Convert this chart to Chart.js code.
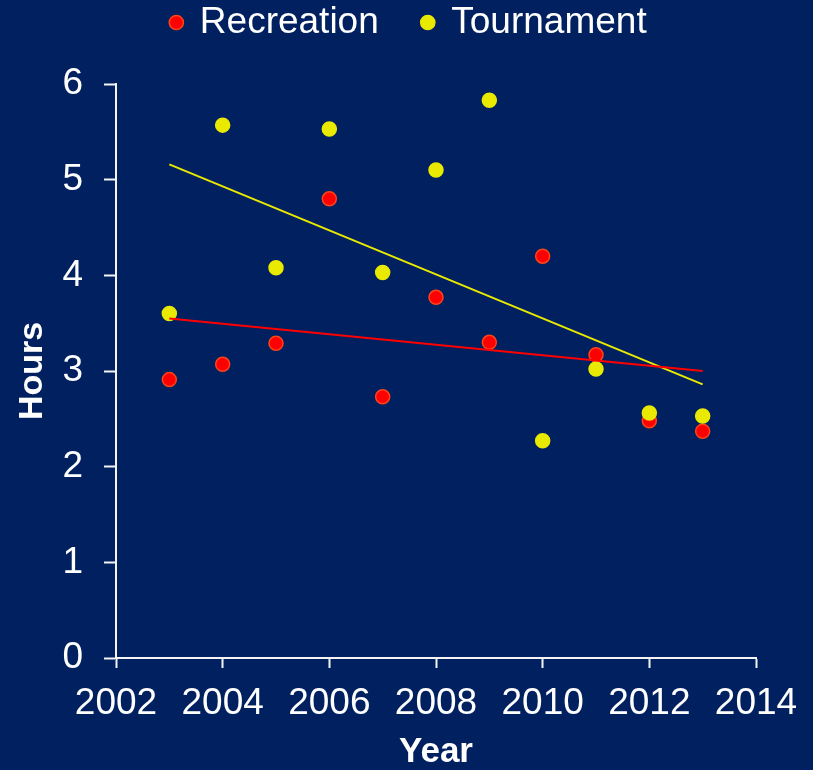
<!DOCTYPE html>
<html>
<head>
<meta charset="utf-8">
<script src="https://cdn.jsdelivr.net/npm/chart.js@4.4.1/dist/chart.umd.min.js"></script>
<style>
  html, body { margin: 0; padding: 0; background: #002060; }
  canvas { display: block; }
</style>
</head>
<body>
<canvas id="hoursChart" width="813" height="770"></canvas>
<script>
// Years and average hours
const years = [2003, 2004, 2005, 2006, 2007, 2008, 2009, 2010, 2011, 2012, 2013];
const recreationHours = [2.91, 3.07, 3.29, 4.80, 2.73, 3.77, 3.30, 4.20, 3.17, 2.48, 2.37];
const tournamentHours = [3.60, 5.57, 4.08, 5.53, 4.03, 5.10, 5.83, 2.27, 3.02, 2.56, 2.53];

// Trend line end points (first and last year)
const trendYears = [2003, 2013];
const recreationTrend = [3.55, 3.00];
const tournamentTrend = [5.16, 2.86];

const xTicks = [2002, 2004, 2006, 2008, 2010, 2012, 2014];
const yTicks = [0, 1, 2, 3, 4, 5, 6];

const toPoints = (xs, ys) => xs.map((x, i) => ({ x: x, y: ys[i] }));

// Legend sits in an 84px band; nudge it so the labels can keep wide spacing
const legendBand = {
    id: 'legendBand',
    beforeInit(chart) {
        const fit = chart.legend.fit;
        chart.legend.fit = function () {
            fit.call(this);
            this.height = 84;
        };
    },
    afterLayout(chart) {
        const lg = chart.legend;
        lg.top -= 40;
        lg.bottom -= 40;
        lg.left += 31;
        lg.right += 31;
    }
};

const ctx = document.getElementById('hoursChart').getContext('2d');
new Chart(ctx, {
    type: 'scatter',
    data: {
        datasets: [
            {
                label: 'Recreation',
                data: toPoints(years, recreationHours),
                backgroundColor: '#ff0000',
                borderColor: '#ff4418',
                borderWidth: 1.5,
                pointRadius: 7,
                order: 2
            },
            {
                label: 'Tournament',
                data: toPoints(years, tournamentHours),
                backgroundColor: '#eaea00',
                borderColor: '#eaea00',
                borderWidth: 1.5,
                pointRadius: 7,
                order: 1
            },
            {
                label: 'Recreation trend',
                data: toPoints(trendYears, recreationTrend),
                showLine: true,
                borderColor: '#ff0000',
                borderWidth: 2,
                pointRadius: 0,
                order: 0
            },
            {
                label: 'Tournament trend',
                data: toPoints(trendYears, tournamentTrend),
                showLine: true,
                borderColor: '#eaea00',
                borderWidth: 2,
                pointRadius: 0,
                order: 0
            }
        ]
    },
    options: {
        responsive: false,
        animation: false,
        layout: { padding: { left: 0, right: 57, top: 0, bottom: 0 } },
        scales: {
            x: {
                type: 'linear',
                min: 2002,
                max: 2014,
                afterBuildTicks: scale => { scale.ticks = xTicks.map(v => ({ value: v })); },
                afterFit: scale => { scale.height = 112; },
                border: { color: '#f4f4f4', width: 2 },
                grid: { drawOnChartArea: false, drawTicks: true, tickLength: 10, tickColor: '#f4f4f4', tickWidth: 2 },
                ticks: {
                    color: '#ffffff',
                    font: { family: 'Liberation Sans, Arial, sans-serif', size: 37 },
                    padding: 14,
                    maxRotation: 0,
                    callback: v => String(v)
                },
                title: {
                    display: true,
                    text: 'Year',
                    color: '#ffffff',
                    font: { family: 'Liberation Sans, Arial, sans-serif', size: 35, weight: 'bold', lineHeight: 1 },
                    padding: { top: 0, bottom: 0 }
                }
            },
            y: {
                min: 0,
                max: 6,
                afterBuildTicks: scale => { scale.ticks = yTicks.map(v => ({ value: v })); },
                afterFit: scale => { scale.width = 116; },
                border: { color: '#f4f4f4', width: 2 },
                grid: { drawOnChartArea: false, drawTicks: true, tickLength: 12, tickColor: '#f4f4f4', tickWidth: 2 },
                ticks: {
                    color: '#ffffff',
                    font: { family: 'Liberation Sans, Arial, sans-serif', size: 37 },
                    padding: 21
                },
                title: {
                    display: true,
                    text: 'Hours',
                    color: '#ffffff',
                    font: { family: 'Liberation Sans, Arial, sans-serif', size: 34, weight: 'bold', lineHeight: 1.2 },
                    padding: { top: 12, bottom: 0 }
                }
            }
        },
        plugins: {
            legend: {
                display: true,
                position: 'top',
                labels: {
                    usePointStyle: true,
                    pointStyle: 'circle',
                    boxWidth: 10,
                    boxHeight: 10,
                    padding: 44,
                    color: '#ffffff',
                    font: { family: 'Liberation Sans, Arial, sans-serif', size: 37 },
                    filter: item => item.datasetIndex < 2,
                    sort: (a, b) => a.datasetIndex - b.datasetIndex
                }
            },
            tooltip: { enabled: false }
        }
    },
    plugins: [legendBand]
});
</script>
</body>
</html>
